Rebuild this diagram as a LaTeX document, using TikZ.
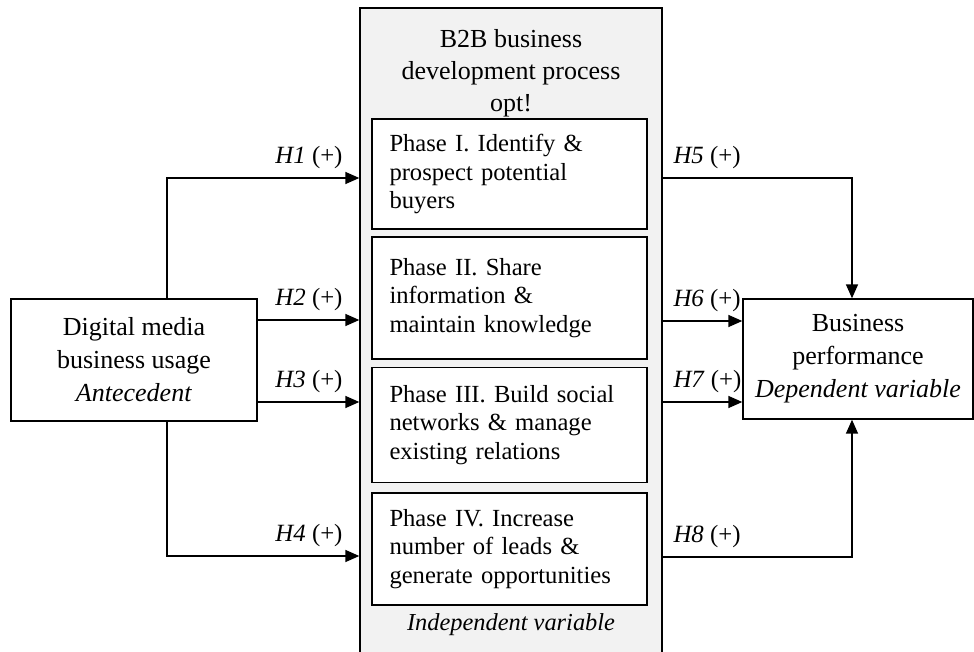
\documentclass[tikz,border=0pt]{standalone}
\usepackage{fontspec}
\setmainfont{Liberation Serif}
\usetikzlibrary{arrows.meta,positioning,calc}
\definecolor{procgray}{RGB}{242,242,242}

\begin{document}
\begin{tikzpicture}[x=0.5pt,y=-0.5pt,
		box/.style={draw, line width=0.7pt, fill=white, anchor=center},
		varbox/.style={box, inner sep=0pt, align=center, font=\fontsize{13}{16.5}\selectfont},
		phasebox/.style={box, minimum width=137.5pt, text width=120pt, inner xsep=8.75pt, align=left, font=\fontsize{12.3}{14.4}\selectfont},
		hyp/.style={line width=0.8pt, -{Triangle[length=7pt,width=6pt]}},
		hlab/.style={inner sep=2pt, font=\fontsize{12.4}{14}\selectfont}]
		\useasboundingbox (0,0) rectangle (974,652);
		\clip (0,0) rectangle (974,652);

		% process block
		\node[draw, line width=0.7pt, fill=procgray, minimum width=151pt, minimum height=340pt, inner sep=0pt] (proc) at (511,348) {};
		\node[align=center, font=\fontsize{13}{16}\selectfont] (ttl) at (511,73) {B2B business\\development process\\opt!};
		\node[font=\fontsize{12.2}{14}\selectfont\itshape] (indep) at (511,625) {Independent variable};

		\node[phasebox, minimum height=55pt] (ph1) at (509.5,174) {Phase I. Identify \&\\prospect potential\\buyers};
		\node[phasebox, minimum height=61pt] (ph2) at (509.5,298) {Phase II. Share\\information \&\\maintain knowledge};
		\node[phasebox, minimum height=57.5pt] (ph3) at (509.5,425) {Phase III. Build social\\networks \& manage\\existing relations};
		\node[phasebox, minimum height=56pt] (ph4) at (509.5,549) {Phase IV. Increase\\number of leads \&\\generate opportunities};

		% variables
		\node[varbox, minimum width=123pt, minimum height=61pt] (dmu) at (134,360) {Digital media\\business usage\\\textit{Antecedent}};
		\node[varbox, minimum width=115pt, minimum height=60pt] (bperf) at (858,359) {Business\\performance\\\textit{Dependent variable}};

		% arrow levels
		\coordinate (l1) at (167,178);
		\coordinate (l2) at (0,320);
		\coordinate (l3) at (0,402);
		\coordinate (l4) at (167,556);
		\coordinate (r5) at (852,178);
		\coordinate (r6) at (0,321);
		\coordinate (r7) at (0,402);
		\coordinate (r8) at (852,557);

		\draw[hyp] (l1 |- dmu.north) -- (l1) -- (proc.west |- l1) node[hlab, anchor=south east, xshift=-6pt, yshift=2pt] {\textit{H1} (+)};
		\draw[hyp] (dmu.east |- l2) -- (proc.west |- l2) node[hlab, anchor=south east, xshift=-6pt, yshift=2pt] {\textit{H2} (+)};
		\draw[hyp] (dmu.east |- l3) -- (proc.west |- l3) node[hlab, anchor=south east, xshift=-6pt, yshift=2pt] {\textit{H3} (+)};
		\draw[hyp] (l4 |- dmu.south) -- (l4) -- (proc.west |- l4) node[hlab, anchor=south east, xshift=-6pt, yshift=2pt] {\textit{H4} (+)};

		\draw[hyp] (proc.east |- r5) node[hlab, anchor=south west, xshift=3pt, yshift=2pt] {\textit{H5} (+)} -- (r5) -- (r5 |- bperf.north);
		\draw[hyp] (proc.east |- r6) node[hlab, anchor=south west, xshift=3pt, yshift=2pt] {\textit{H6} (+)} -- (bperf.west |- r6);
		\draw[hyp] (proc.east |- r7) node[hlab, anchor=south west, xshift=3pt, yshift=2pt] {\textit{H7} (+)} -- (bperf.west |- r7);
		\draw[hyp] (proc.east |- r8) node[hlab, anchor=south west, xshift=3pt, yshift=2pt] {\textit{H8} (+)} -- (r8) -- (r8 |- bperf.south);
	\end{tikzpicture}
\end{document}
